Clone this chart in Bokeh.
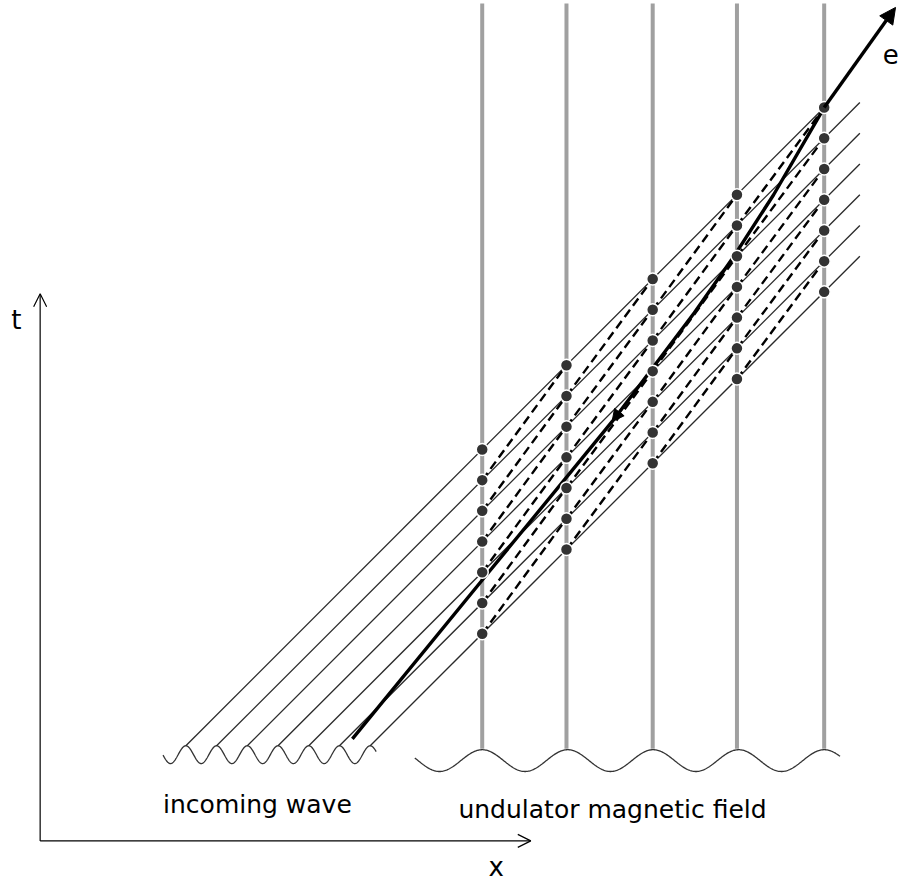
import numpy as np
from bokeh.plotting import figure
from bokeh.models import Range1d, Arrow, NormalHead, OpenHead
from bokeh.embed import file_html
from bokeh.resources import INLINE
from bokeh.core.properties import value

# ---- data (diagram coordinates, pixel-like units, y grows downward) ----
wave_crest_x = [187, 218, 249, 280, 311, 342, 373]   # origins of the wave fronts
wave_crest_y = 752
front_end_x = 867
magnet_x = [486, 571, 658, 743, 831]
magnet_top = 3
magnet_bottom = 755
electron_x = [355, 490, 617, 660, 700, 740, 780, 831]
electron_y = [745, 580, 425, 368, 315, 258, 196, 108]
electron_tip = (903, 7)
mid_arrow = (617, 425)

incoming_wave = dict(x0=164, x1=379, center=761, amp=9, period=31, crest=187)
undulator_wave = dict(x0=418, x1=847, center=767, amp=11, period=86.25, crest=486)

labels = ["incoming wave", "undulator magnetic field", "t", "x", "e"]

# ---- figure ----
p = figure(width=900, height=882, x_range=Range1d(0, 908), y_range=Range1d(890, 0),
           output_backend="svg", toolbar_location=None, min_border=0,
           x_axis_type=None, y_axis_type=None)
p.grid.visible = False
p.outline_line_color = None
p.background_fill_color = "white"
p.border_fill_color = "white"

# magnets
p.segment(x0=magnet_x, y0=[magnet_top] * len(magnet_x), x1=magnet_x,
          y1=[magnet_bottom] * len(magnet_x), line_color="#a0a0a0", line_width=4)

# waves
for w in (incoming_wave, undulator_wave):
    xs = np.linspace(w["x0"], w["x1"], 500)
    ys = w["center"] - w["amp"] * np.cos(2 * np.pi * (xs - w["crest"]) / w["period"])
    p.line(xs, ys, line_color="#333333", line_width=1.3)

def front_y(j, x):
    return wave_crest_y - (x - wave_crest_x[j])

# thin wave-front lines
x0s, y0s, x1s, y1s = [], [], [], []
for j, c in enumerate(wave_crest_x):
    xe = magnet_x[-1] if j == 0 else front_end_x
    x0s.append(c); y0s.append(wave_crest_y); x1s.append(xe); y1s.append(front_y(j, xe))
p.segment(x0=x0s, y0=y0s, x1=x1s, y1=y1s, line_color="#2a2a2a", line_width=1.3)

# dashed lines between neighbouring magnets
dx0, dy0, dx1, dy1 = [], [], [], []
for k in range(len(magnet_x) - 1):
    for j in range(len(wave_crest_x) - 1):
        dx0.append(magnet_x[k]); dy0.append(front_y(j + 1, magnet_x[k]))
        dx1.append(magnet_x[k + 1]); dy1.append(front_y(j, magnet_x[k + 1]))
p.segment(x0=dx0, y0=dy0, x1=dx1, y1=dy1, line_color="black", line_width=2.4,
          line_dash="9 5")

# electron path
p.line(electron_x, electron_y, line_color="black", line_width=3.4, line_join="round")
p.add_layout(Arrow(end=NormalHead(size=16, fill_color="black", line_color="black"),
                   x_start=electron_x[-1], y_start=electron_y[-1],
                   x_end=electron_tip[0], y_end=electron_tip[1],
                   line_color="black", line_width=3.4))
p.add_layout(Arrow(end=NormalHead(size=12, fill_color="black", line_color="black"),
                   x_start=mid_arrow[0] + 13, y_start=mid_arrow[1] - 17,
                   x_end=mid_arrow[0], y_end=mid_arrow[1],
                   line_color="black", line_width=2))

# dots at intersections
px, py = [], []
for m in magnet_x:
    for j in range(len(wave_crest_x)):
        px.append(m); py.append(front_y(j, m))
p.scatter(px, py, size=12, fill_color="#333333", line_color="white", line_width=1.5)

# coordinate axes
p.add_layout(Arrow(end=OpenHead(size=13, line_width=1.2), x_start=40, y_start=848,
                   x_end=40, y_end=296, line_width=1.2, line_color="black"))
p.add_layout(Arrow(end=OpenHead(size=13, line_width=1.2), x_start=40, y_start=848,
                   x_end=535, y_end=848, line_width=1.2, line_color="black"))

# texts
font = value("DejaVu Sans")
p.text(x=[164, 462], y=[811, 816], text=labels[:2], text_font=font,
       text_font_size="25px", text_baseline="alphabetic", text_align="left",
       text_color="black")
p.text(x=[16, 500], y=[322, 874], text=labels[2:4], text_font=font,
       text_font_size="26px", text_baseline="middle", text_align="center",
       text_color="black")
p.text(x=[890], y=[54], text=labels[4:], text_font=font,
       text_font_size="26px", text_baseline="alphabetic", text_align="left",
       text_color="black")

open("out.html", "w").write(file_html(p, INLINE))
